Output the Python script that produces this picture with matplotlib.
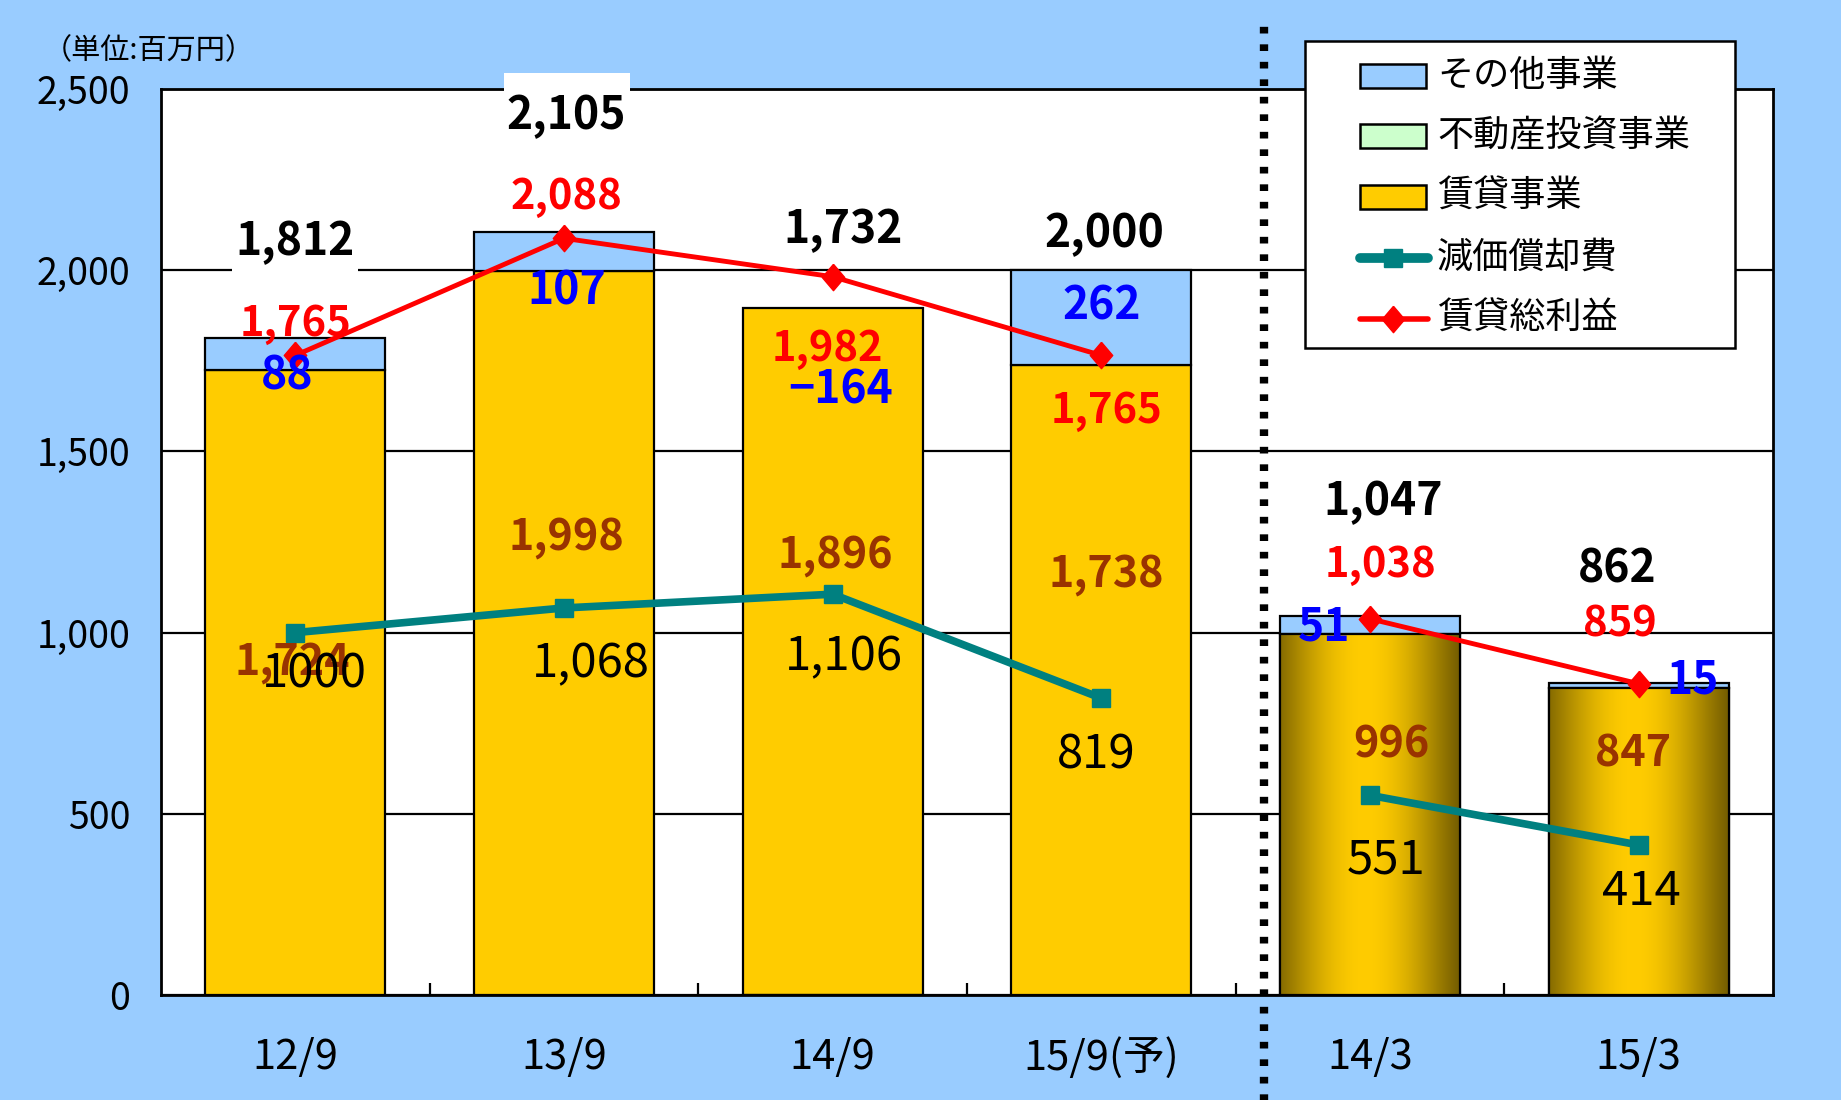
import numpy as np
import matplotlib
matplotlib.use("Agg")
import matplotlib.pyplot as plt
from matplotlib.patches import Rectangle
from matplotlib.lines import Line2D
from matplotlib.colors import to_rgb

# ---------------- data ----------------
categories = ["12/9", "13/9", "14/9", "15/9(予)", "14/3", "15/3"]
rental_business = [1724, 1998, 1896, 1738, 996, 847]          # 賃貸事業
real_estate_investment = [0, 0, 0, 0, 0, 0]                   # 不動産投資事業
other_business = [88, 107, -164, 262, 51, 15]                 # その他事業
total_sales = [1812, 2105, 1732, 2000, 1047, 862]
depreciation = [1000, 1068, 1106, 819, 551, 414]              # 減価償却費
rental_gross_profit = [1765, 2088, 1982, 1765, 1038, 859]     # 賃貸総利益
depreciation_label_text = ["1000", "1,068", "1,106", "819", "551", "414"]
y_tick_values = [0, 500, 1000, 1500, 2000, 2500]

name_other = "その他事業"
name_realestate = "不動産投資事業"
name_rental = "賃貸事業"
name_dep = "減価償却費"
name_profit = "賃貸総利益"
unit_label = "（単位:百万円）"

# ---------------- style ----------------
BG = "#99CCFF"
YELLOW = "#FFCC00"
GREEN = "#CCFFCC"
TEAL = "#008080"
RED = "#FF0000"
BROWN = "#993300"
BLUE = "#0000FF"
GRADIENT_BARS = [4, 5]
LINE_GROUPS = [slice(0, 4), slice(4, 6)]   # half-year group / full-year group
BAR_W = 0.67
LABEL_DY = -13

# label positions (data coords)
pos_total = [(0.0, 2090), (1.01, 2439), (2.04, 2123), (3.01, 2113), (4.05, 1373), (4.92, 1186)]
pos_profit = [(0.0, 1864), (1.01, 2216), (1.98, 1796), (3.02, 1625), (4.04, 1199), (4.93, 1034)]
pos_other = [(-0.03, 1719), (1.01, 1955), (2.03, 1680), (3.0, 1913), (3.83, 1027), (5.2, 882)]
pos_rental = [(-0.01, 931), (1.01, 1276), (2.01, 1228), (3.02, 1176), (4.08, 704), (4.98, 679)]
pos_dep = [(0.07, 898), (1.10, 927), (2.04, 947), (2.98, 675), (4.06, 384), (5.01, 297)]

plt.rcParams["font.family"] = ["Noto Sans CJK JP", "DejaVu Sans"]

FW, FH = 1841, 1100
fig = plt.figure(figsize=(FW / 100, FH / 100), dpi=100)
fig.patch.set_facecolor(BG)

ax_left, ax_right, ax_top, ax_bottom = 161, 1773, 89, 995
ax = fig.add_axes([ax_left / FW, 1 - ax_bottom / FH,
                   (ax_right - ax_left) / FW, (ax_bottom - ax_top) / FH])
ax.set_facecolor("white")

x = np.arange(len(categories))
rental = np.array(rental_business)
realest = np.array(real_estate_investment)
other = np.array(other_business)
dep = np.array(depreciation)
profit = np.array(rental_gross_profit)

# stacked bars (negative values stack downward from zero as in Excel)
bars_rental = ax.bar(x, rental, BAR_W, color=YELLOW, edgecolor="black", linewidth=1.6, zorder=2)
green_bottom = np.where(realest >= 0, rental, 0)
ax.bar(x, realest, BAR_W, bottom=green_bottom, color=GREEN, edgecolor="black", linewidth=0, zorder=2)
pos_base = rental + np.clip(realest, 0, None)
other_bottom = np.where(other >= 0, pos_base, 0)
ax.bar(x, other, BAR_W, bottom=other_bottom, color=BG, edgecolor="black", linewidth=1.6, zorder=2)

# gradient fill for fiscal-year bars
dark = np.array(to_rgb("#6E5800"))
bright = np.array(to_rgb(YELLOW))
t = np.linspace(0, 1, 256)
w = 0.5 * (1 + np.cos(np.pi * np.clip((t - 0.47) / 0.55, -1, 1)))
w = w ** 0.6
grad = (dark[None, :] + (bright - dark)[None, :] * w[:, None])[None, :, :]
for i in GRADIENT_BARS:
    b = bars_rental[i]
    im = ax.imshow(grad, extent=[b.get_x(), b.get_x() + b.get_width(), 0, b.get_height()],
                   aspect="auto", interpolation="bilinear", zorder=2.1)
    im.set_clip_path(b)
    ax.add_patch(Rectangle((b.get_x(), 0), b.get_width(), b.get_height(), fill=False,
                           edgecolor="black", linewidth=1.6, zorder=2.2))

# lines (each group drawn separately, not joined across the separator)
diamond = [(0, 1), (0.85, 0), (0, -1), (-0.85, 0), (0, 1)]
for g in LINE_GROUPS:
    ax.plot(x[g], dep[g], color=TEAL, lw=5.5, marker="s", markersize=13, zorder=4)
    ax.plot(x[g], profit[g], color=RED, lw=3.5, marker=diamond, markersize=19, zorder=4.5)

ax.set_xlim(-0.5, len(categories) - 0.5)
ax.set_ylim(0, 2500)

# white boxes behind totals
for (px, py) in pos_total:
    ax.add_patch(Rectangle((px - 0.235, py - 105), 0.47, 210, facecolor="white",
                           edgecolor="none", zorder=5, clip_on=False))

def fmt(v):
    return f"{v:,}".replace("-", "−")

def label(pos, s, **kw):
    ax.text(pos[0], pos[1] + LABEL_DY, s, ha="center", va="center", **kw)

for i in range(len(categories)):
    label(pos_total[i], fmt(total_sales[i]), fontsize=32, fontweight="bold",
          color="black", zorder=6, clip_on=False)
    label(pos_profit[i], fmt(rental_gross_profit[i]), fontsize=30, fontweight="bold",
          color=RED, zorder=6)
    label(pos_other[i], fmt(other_business[i]), fontsize=32, fontweight="bold",
          color=BLUE, zorder=6)
    label(pos_rental[i], fmt(rental_business[i]), fontsize=31, fontweight="bold",
          color=BROWN, zorder=6)
    label(pos_dep[i], depreciation_label_text[i], fontsize=34, color="black", zorder=6.5)

# axes styling
ax.set_yticks(y_tick_values)
ax.set_yticklabels([f"{v:,}" for v in y_tick_values])
ax.tick_params(axis="y", length=0, pad=22, labelsize=27)
ax.set_xticks(x[:-1] + 0.5)
ax.set_xticklabels([])
ax.set_xticks(x, minor=True)
ax.set_xticklabels(categories, minor=True)
ax.tick_params(axis="x", which="major", direction="in", length=9, width=1.6)
ax.tick_params(axis="x", which="minor", length=0, pad=30, labelsize=30)
ax.grid(axis="y", color="black", linewidth=1.6)
ax.set_axisbelow(True)
for s in ax.spines.values():
    s.set_linewidth(2)
    s.set_color("black")

# dotted separator
ax.axvline(3.605, ymin=-0.12, ymax=1.08, color="black", lw=6,
           linestyle=(0, (0.8, 1.3)), clip_on=False, zorder=7)

# unit label
fig.text(43 / FW, 1 - 51 / FH, unit_label, ha="left", va="center", fontsize=21)

# legend (drawn in figure pixels)
def fxy(px, py):
    return px / FW, 1 - py / FH

lx0, ly0, lx1, ly1 = 1305, 41, 1735, 348
fig.add_artist(Rectangle(fxy(lx0, ly1), (lx1 - lx0) / FW, (ly1 - ly0) / FH,
                         transform=fig.transFigure, facecolor="white", edgecolor="black",
                         linewidth=1.8, zorder=10))
rows = [76, 136, 197, 258, 319]
hx0, hx1, tx = 1360, 1426, 1437
for row, col in zip(rows[:3], [BG, GREEN, YELLOW]):
    fig.add_artist(Rectangle(fxy(hx0, row + 12), (hx1 - hx0) / FW, 24 / FH,
                             transform=fig.transFigure, facecolor=col, edgecolor="black",
                             linewidth=1.8, zorder=11))
for row, col, lw, mk, ms in [(rows[3], TEAL, 7, "s", 13), (rows[4], RED, 4, diamond, 19)]:
    fig.add_artist(Line2D([hx0 / FW, (hx1 + 2) / FW], [1 - row / FH] * 2,
                          transform=fig.transFigure, color=col, lw=lw,
                          solid_capstyle="round", zorder=11))
    fig.add_artist(Line2D([(hx0 + hx1) / 2 / FW], [1 - row / FH], transform=fig.transFigure,
                          color=col, marker=mk, markersize=ms, linestyle="none", zorder=12))
for row, name in zip(rows, [name_other, name_realestate, name_rental, name_dep, name_profit]):
    fig.text(tx / FW, 1 - row / FH, name, ha="left", va="center", fontsize=26, zorder=12)

fig.savefig("out.png", dpi=100, facecolor=BG)
